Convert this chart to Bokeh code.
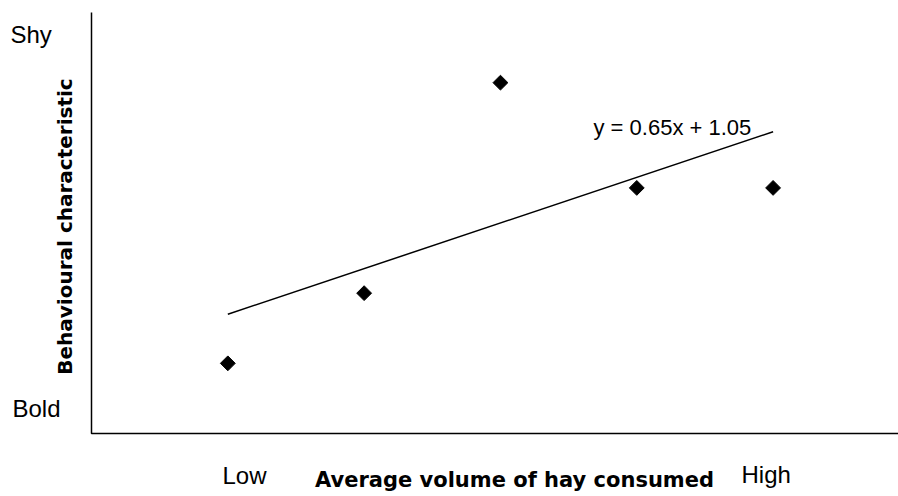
import math
import numpy as np
from bokeh.plotting import figure
from bokeh.models import Label, Range1d
from bokeh.embed import file_html
from bokeh.resources import INLINE

# Data
volume = [1, 2, 3, 4, 5]
behaviour = [1.0, 2.0, 5.0, 3.5, 3.5]
slope = 0.65
intercept = 1.05
equation_label = "y = 0.65x + 1.05"
x_title = "Average volume of hay consumed"
y_title = "Behavioural characteristic"
x_low_label, x_high_label = "Low", "High"
y_low_label, y_high_label = "Bold", "Shy"
x_axis_max = 5.92
y_axis_max = 6.0

W, H = 898, 496
LEFT, TOP, BOTTOM = 91, 12, 63
fw = W - LEFT
fh = H - TOP - BOTTOM
kx = x_axis_max / fw      # data units per pixel
ky = y_axis_max / fh

X0, X1 = -LEFT * kx, x_axis_max
Y0, Y1 = -BOTTOM * ky, y_axis_max + TOP * ky

p = figure(width=W, height=H, output_backend="svg", toolbar_location=None,
           x_range=Range1d(X0, X1), y_range=Range1d(Y0, Y1),
           min_border=0)
p.outline_line_color = None
p.axis.visible = False
p.xgrid.visible = False
p.ygrid.visible = False
p.background_fill_color = "white"
p.border_fill_color = "white"

def dx(px):
    return X0 + px * kx

def dy(py):
    return Y1 - py * ky

# Axis lines
p.line([0, 0, x_axis_max], [y_axis_max, 0, 0], line_color="black", line_width=1.5)

# Trend line
xs = np.array([min(volume), max(volume)], dtype=float)
p.line(xs, slope * xs + intercept, line_color="black", line_width=1.5)

# Points
p.scatter(volume, behaviour, marker="square", angle=math.pi / 4, size=10.5,
          fill_color="black", line_color="black")

font = "Liberation Sans"
SHIFT = 9
def lab(text, px, py, size, bold=False, align="left", baseline="alphabetic", angle=0.0, f=font):
    p.add_layout(Label(x=dx(px), y=dy(py - SHIFT), text=text, text_font=f,
                       text_font_size=f"{size}px",
                       text_font_style="bold" if bold else "normal",
                       text_align=align, text_baseline=baseline, angle=angle,
                       text_color="black"))

lab(y_high_label, 10, 43, 24)
lab(y_low_label, 12, 417, 24)
lab(x_low_label, 222, 484, 24)
lab(x_high_label, 741, 483, 24)
lab(equation_label, 593, 136, 22)
lab(x_title, 514, 488, 21, bold=True, align="center", f="DejaVu Sans")
p.add_layout(Label(x=dx(64), y=dy(226), text=y_title, text_font="DejaVu Sans",
                   text_font_size="20px", text_font_style="bold",
                   text_align="center", text_baseline="middle",
                   angle=math.pi / 2, text_color="black"))

open("out.html", "w").write(file_html(p, INLINE))
